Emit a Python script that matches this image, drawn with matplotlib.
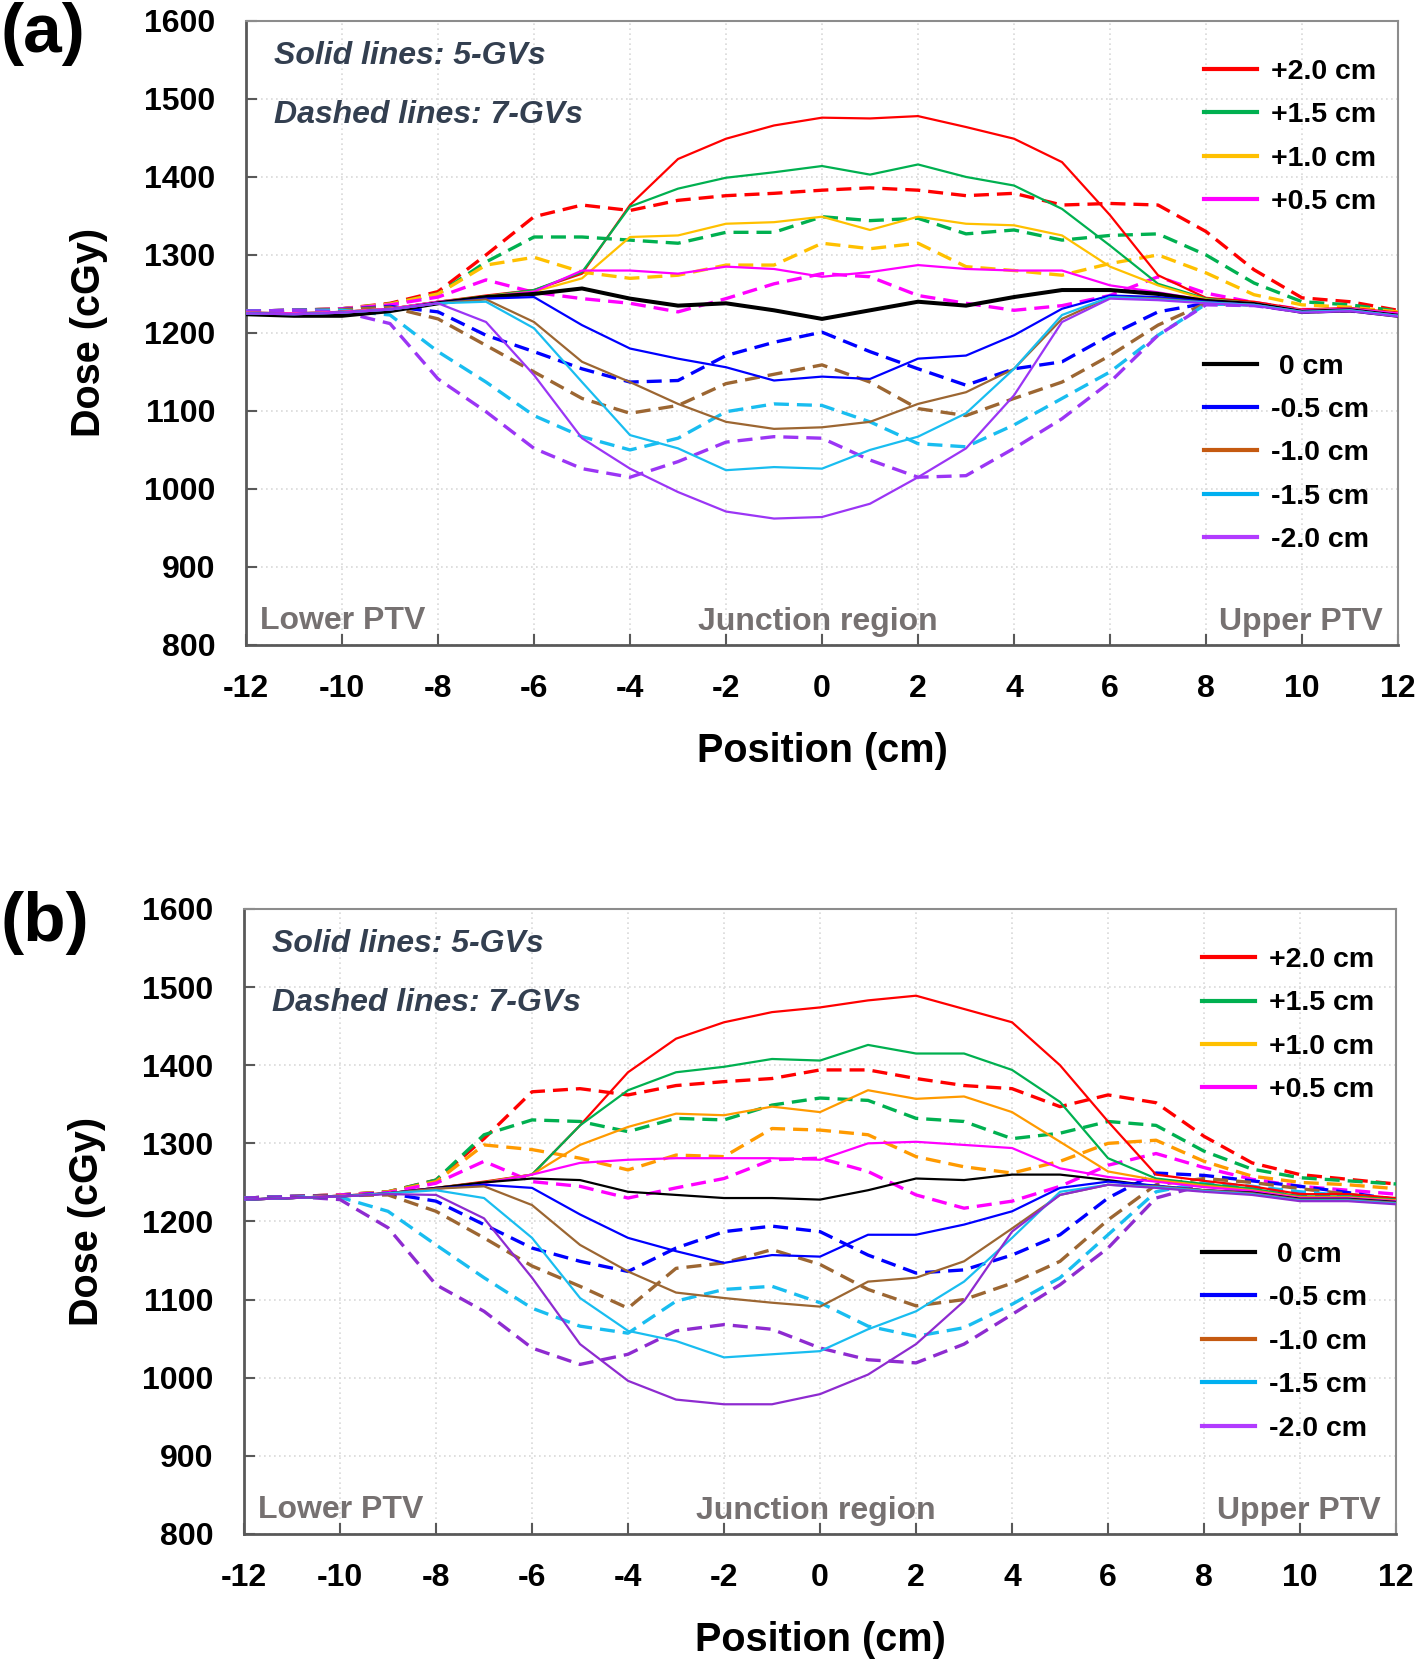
import matplotlib
matplotlib.use('Agg')
import matplotlib.pyplot as plt
from matplotlib.lines import Line2D

plt.rcParams['font.family'] = ['Liberation Sans', 'DejaVu Sans']
plt.rcParams['font.weight'] = 'bold'
plt.rcParams['axes.labelweight'] = 'bold'
plt.rcParams['axes.unicode_minus'] = False

# position along the cranio-caudal axis (cm)
pos_cm = list(range(-12, 13))
shift_labels = ['+2.0 cm', '+1.5 cm', '+1.0 cm', '+0.5 cm', ' 0 cm',
                '-0.5 cm', '-1.0 cm', '-1.5 cm', '-2.0 cm']

# ---- panel (a): solid = 5-GVs
a_5gv_p20 = [1226,1225,1227,1231,1240,1248,1255,1276,1364,1423,1449,1466,1476,1475,1478,1464,1449,1419,1351,1274,1245,1240,1230,1232,1226]
a_5gv_p15 = [1226,1225,1227,1231,1240,1247,1255,1278,1362,1385,1399,1406,1414,1403,1416,1400,1389,1359,1312,1263,1244,1238,1229,1231,1225]
a_5gv_p10 = [1226,1225,1227,1231,1240,1247,1253,1270,1323,1325,1340,1342,1349,1332,1349,1340,1338,1325,1285,1261,1243,1238,1229,1231,1225]
a_5gv_p05 = [1226,1225,1227,1231,1240,1246,1253,1280,1280,1276,1285,1282,1272,1278,1287,1282,1280,1280,1261,1252,1242,1238,1229,1231,1225]
a_5gv_z00 = [1224,1222,1222,1228,1238,1246,1250,1257,1244,1235,1238,1229,1218,1229,1240,1235,1246,1255,1255,1250,1241,1237,1227,1229,1222]
a_5gv_m05 = [1225,1224,1226,1230,1238,1244,1246,1210,1180,1167,1156,1139,1144,1141,1167,1171,1197,1231,1248,1246,1240,1236,1227,1229,1222]
a_5gv_m10 = [1225,1224,1226,1230,1238,1243,1214,1163,1137,1109,1086,1077,1079,1086,1109,1124,1154,1218,1246,1244,1239,1236,1227,1229,1222]
a_5gv_m15 = [1225,1224,1226,1230,1238,1240,1206,1137,1069,1052,1024,1028,1026,1050,1067,1097,1154,1223,1246,1243,1239,1236,1227,1229,1222]
a_5gv_m20 = [1225,1224,1226,1230,1238,1214,1146,1065,1026,996,971,962,964,981,1015,1052,1120,1214,1244,1242,1238,1235,1226,1228,1221]

# ---- panel (a): dashed = 7-GVs
a_7gv_p20 = [1228,1229,1231,1238,1253,1300,1349,1364,1357,1370,1376,1379,1383,1386,1383,1376,1379,1364,1366,1364,1330,1281,1245,1240,1229]
a_7gv_p15 = [1228,1229,1231,1237,1250,1291,1323,1323,1319,1315,1329,1329,1349,1344,1347,1327,1332,1319,1325,1327,1300,1264,1240,1236,1228]
a_7gv_p10 = [1228,1229,1231,1237,1250,1287,1297,1278,1270,1274,1287,1287,1315,1308,1315,1285,1280,1274,1289,1300,1277,1249,1236,1233,1227]
a_7gv_p05 = [1228,1229,1231,1236,1246,1268,1252,1244,1238,1227,1244,1263,1276,1272,1248,1238,1229,1235,1248,1272,1251,1239,1230,1230,1225]
a_7gv_m05 = [1228,1229,1230,1234,1227,1197,1176,1154,1137,1139,1171,1188,1201,1176,1154,1133,1154,1163,1197,1227,1238,1236,1228,1229,1224]
a_7gv_m10 = [1228,1229,1230,1233,1218,1184,1150,1116,1097,1107,1135,1147,1159,1137,1103,1094,1116,1137,1171,1210,1238,1236,1228,1229,1224]
a_7gv_m15 = [1228,1229,1229,1223,1176,1137,1094,1067,1050,1065,1099,1109,1107,1086,1058,1054,1082,1116,1150,1197,1237,1236,1228,1229,1224]
a_7gv_m20 = [1228,1229,1227,1212,1141,1099,1052,1026,1015,1035,1060,1067,1065,1037,1015,1017,1052,1090,1137,1197,1236,1235,1227,1228,1223]

# ---- panel (b): solid = 5-GVs
b_5gv_p20 = [1228,1230,1233,1236,1243,1251,1260,1323,1391,1434,1455,1468,1474,1483,1489,1472,1455,1400,1328,1260,1252,1245,1235,1235,1230]
b_5gv_p15 = [1228,1230,1233,1236,1243,1250,1260,1323,1368,1391,1398,1408,1406,1426,1415,1415,1394,1353,1281,1255,1248,1242,1232,1232,1228]
b_5gv_p10 = [1228,1230,1233,1236,1243,1250,1260,1298,1321,1338,1336,1347,1340,1368,1357,1360,1340,1302,1264,1253,1246,1240,1231,1231,1227]
b_5gv_p05 = [1228,1230,1233,1236,1243,1249,1260,1275,1279,1281,1281,1281,1279,1300,1302,1298,1294,1268,1257,1251,1244,1239,1230,1230,1226]
b_5gv_z00 = [1228,1230,1232,1236,1243,1250,1255,1253,1238,1234,1230,1230,1228,1240,1255,1253,1260,1260,1253,1245,1240,1237,1229,1229,1225]
b_5gv_m05 = [1228,1230,1232,1236,1242,1247,1243,1209,1179,1162,1147,1157,1155,1183,1183,1196,1213,1243,1251,1246,1240,1236,1228,1228,1224]
b_5gv_m10 = [1228,1230,1232,1236,1242,1245,1221,1170,1136,1109,1102,1096,1091,1123,1128,1149,1191,1234,1247,1245,1240,1236,1228,1228,1224]
b_5gv_m15 = [1228,1230,1232,1236,1240,1230,1179,1102,1060,1047,1026,1030,1034,1062,1085,1123,1179,1238,1247,1244,1239,1235,1227,1227,1223]
b_5gv_m20 = [1228,1230,1232,1235,1234,1204,1128,1043,996,972,966,966,979,1004,1043,1098,1187,1234,1247,1243,1238,1234,1226,1226,1222]

# ---- panel (b): dashed = 7-GVs
b_7gv_p20 = [1230,1232,1234,1238,1253,1306,1366,1370,1362,1374,1379,1383,1394,1394,1383,1374,1370,1347,1362,1352,1309,1275,1260,1254,1248]
b_7gv_p15 = [1230,1232,1234,1238,1253,1311,1330,1328,1315,1332,1330,1349,1358,1355,1332,1328,1306,1313,1328,1323,1290,1267,1256,1252,1248]
b_7gv_p10 = [1230,1232,1234,1238,1251,1298,1292,1281,1266,1285,1283,1319,1317,1311,1283,1270,1262,1277,1300,1304,1277,1258,1250,1247,1242]
b_7gv_p05 = [1230,1232,1234,1237,1249,1277,1251,1245,1230,1243,1255,1279,1281,1264,1234,1217,1226,1245,1272,1287,1269,1254,1245,1240,1235]
b_7gv_m05 = [1230,1232,1233,1236,1226,1196,1166,1149,1136,1166,1187,1194,1187,1157,1134,1138,1157,1183,1230,1262,1259,1252,1245,1237,1228]
b_7gv_m10 = [1230,1232,1233,1234,1213,1179,1143,1117,1089,1140,1147,1164,1145,1113,1092,1100,1121,1149,1202,1247,1255,1250,1242,1235,1228]
b_7gv_m15 = [1230,1232,1231,1213,1170,1128,1089,1066,1057,1098,1113,1117,1096,1066,1053,1064,1094,1128,1183,1238,1250,1245,1238,1233,1226]
b_7gv_m20 = [1230,1232,1228,1192,1119,1085,1038,1017,1030,1060,1068,1062,1038,1023,1019,1043,1081,1119,1166,1230,1247,1242,1235,1230,1225]

a_colors = ['#FF0000', '#00B050', '#FFC000', '#FF00FF', '#000000',
            '#0000FF', '#9C6632', '#19BDF0', '#9B35F5']
b_colors = ['#FF0000', '#00B050', '#FF9A00', '#FF00FF', '#000000',
            '#0000FF', '#9C6632', '#19BDF0', '#8E2BD0']
legend_colors = ['#FF0000', '#00B050', '#FFC000', '#FF00FF', '#000000',
                 '#0000FF', '#C55A11', '#00B0F0', '#B23BFF']

a_solid = [a_5gv_p20, a_5gv_p15, a_5gv_p10, a_5gv_p05, a_5gv_z00,
           a_5gv_m05, a_5gv_m10, a_5gv_m15, a_5gv_m20]
a_dashed = [a_7gv_p20, a_7gv_p15, a_7gv_p10, a_7gv_p05,
            a_7gv_m05, a_7gv_m10, a_7gv_m15, a_7gv_m20]
b_solid = [b_5gv_p20, b_5gv_p15, b_5gv_p10, b_5gv_p05, b_5gv_z00,
           b_5gv_m05, b_5gv_m10, b_5gv_m15, b_5gv_m20]
b_dashed = [b_7gv_p20, b_7gv_p15, b_7gv_p10, b_7gv_p05,
            b_7gv_m05, b_7gv_m10, b_7gv_m15, b_7gv_m20]

GRAY_TXT = '#767171'
NOTE_TXT = '#333F50'


def draw_panel(ax, solid, dashed, colors, black_lw):
    # dashed first (7-GVs), colours skip the 0 cm entry
    dcols = colors[:4] + colors[5:]
    for ys, c in zip(dashed, dcols):
        ax.plot(pos_cm, ys, color=c, lw=2.4, dashes=(4.5, 2.4), zorder=3)
    for i, (ys, c) in enumerate(zip(solid, colors)):
        lw = black_lw if i == 4 else 1.6
        ax.plot(pos_cm, ys, color=c, lw=lw, zorder=4)

    ax.set_xlim(-12, 12)
    ax.set_ylim(800, 1600)
    ax.set_xticks(range(-12, 13, 2))
    ax.set_yticks(range(800, 1601, 100))
    ax.grid(True, color='#D9D9D9', linestyle=(0, (1, 2)), lw=1.2, zorder=0)
    ax.tick_params(axis='both', direction='in', length=8, width=1.5,
                   color='#595959', labelsize=23)
    ax.tick_params(axis='y', pad=22)
    ax.tick_params(axis='x', pad=21)
    for s in ['left', 'bottom']:
        ax.spines[s].set_color('#595959')
        ax.spines[s].set_linewidth(2)
    for s in ['top', 'right']:
        ax.spines[s].set_color('#8C8C8C')
        ax.spines[s].set_linewidth(1.5)

    ax.set_xlabel('Position (cm)', fontsize=28.5)
    ax.set_ylabel('Dose (cGy)', fontsize=28.5)
    ax.xaxis.set_label_coords(0.5, -0.14)
    ax.yaxis.set_label_coords(-0.12, 0.5)

    ax.text(0.024, 0.944, 'Solid lines: 5-GVs', transform=ax.transAxes,
            fontsize=23, style='italic', color=NOTE_TXT, va='center')
    ax.text(0.024, 0.849, 'Dashed lines: 7-GVs', transform=ax.transAxes,
            fontsize=23, style='italic', color=NOTE_TXT, va='center')
    ax.text(0.012, 0.038, 'Lower PTV', transform=ax.transAxes,
            fontsize=23, color=GRAY_TXT, va='center')
    ax.text(0.4965, 0.036, 'Junction region', transform=ax.transAxes,
            fontsize=23, color=GRAY_TXT, va='center', ha='center')
    ax.text(0.987, 0.036, 'Upper PTV', transform=ax.transAxes,
            fontsize=23, color=GRAY_TXT, va='center', ha='right')

    handles = [Line2D([], [], color=c, lw=3) for c in legend_colors]
    leg1 = ax.legend(handles[:4], shift_labels[:4], loc='upper left',
                     bbox_to_anchor=(0.8316, 0.939), frameon=False,
                     fontsize=20.5, handlelength=1.86, handletextpad=0.5,
                     labelspacing=0.61, borderpad=0, borderaxespad=0)
    ax.add_artist(leg1)
    ax.legend(handles[4:], shift_labels[4:], loc='upper left',
              bbox_to_anchor=(0.8316, 0.467), frameon=False,
              fontsize=20.5, handlelength=1.86, handletextpad=0.5,
              labelspacing=0.61, borderpad=0, borderaxespad=0)


fig = plt.figure(figsize=(14.18, 16.63), dpi=100)
ax_a = fig.add_axes([0.1735, 0.6122, 0.8124, 0.3752])
ax_b = fig.add_axes([0.1721, 0.0776, 0.8124, 0.3758])

draw_panel(ax_a, a_solid, a_dashed, a_colors, 2.9)
draw_panel(ax_b, b_solid, b_dashed, b_colors, 1.6)

fig.text(0.0, 1 - 34 / 1663, '(a)', fontsize=50, va='center', ha='left')
fig.text(0.0, 1 - 923 / 1663, '(b)', fontsize=50, va='center', ha='left')

fig.savefig('out.png', dpi=100)
